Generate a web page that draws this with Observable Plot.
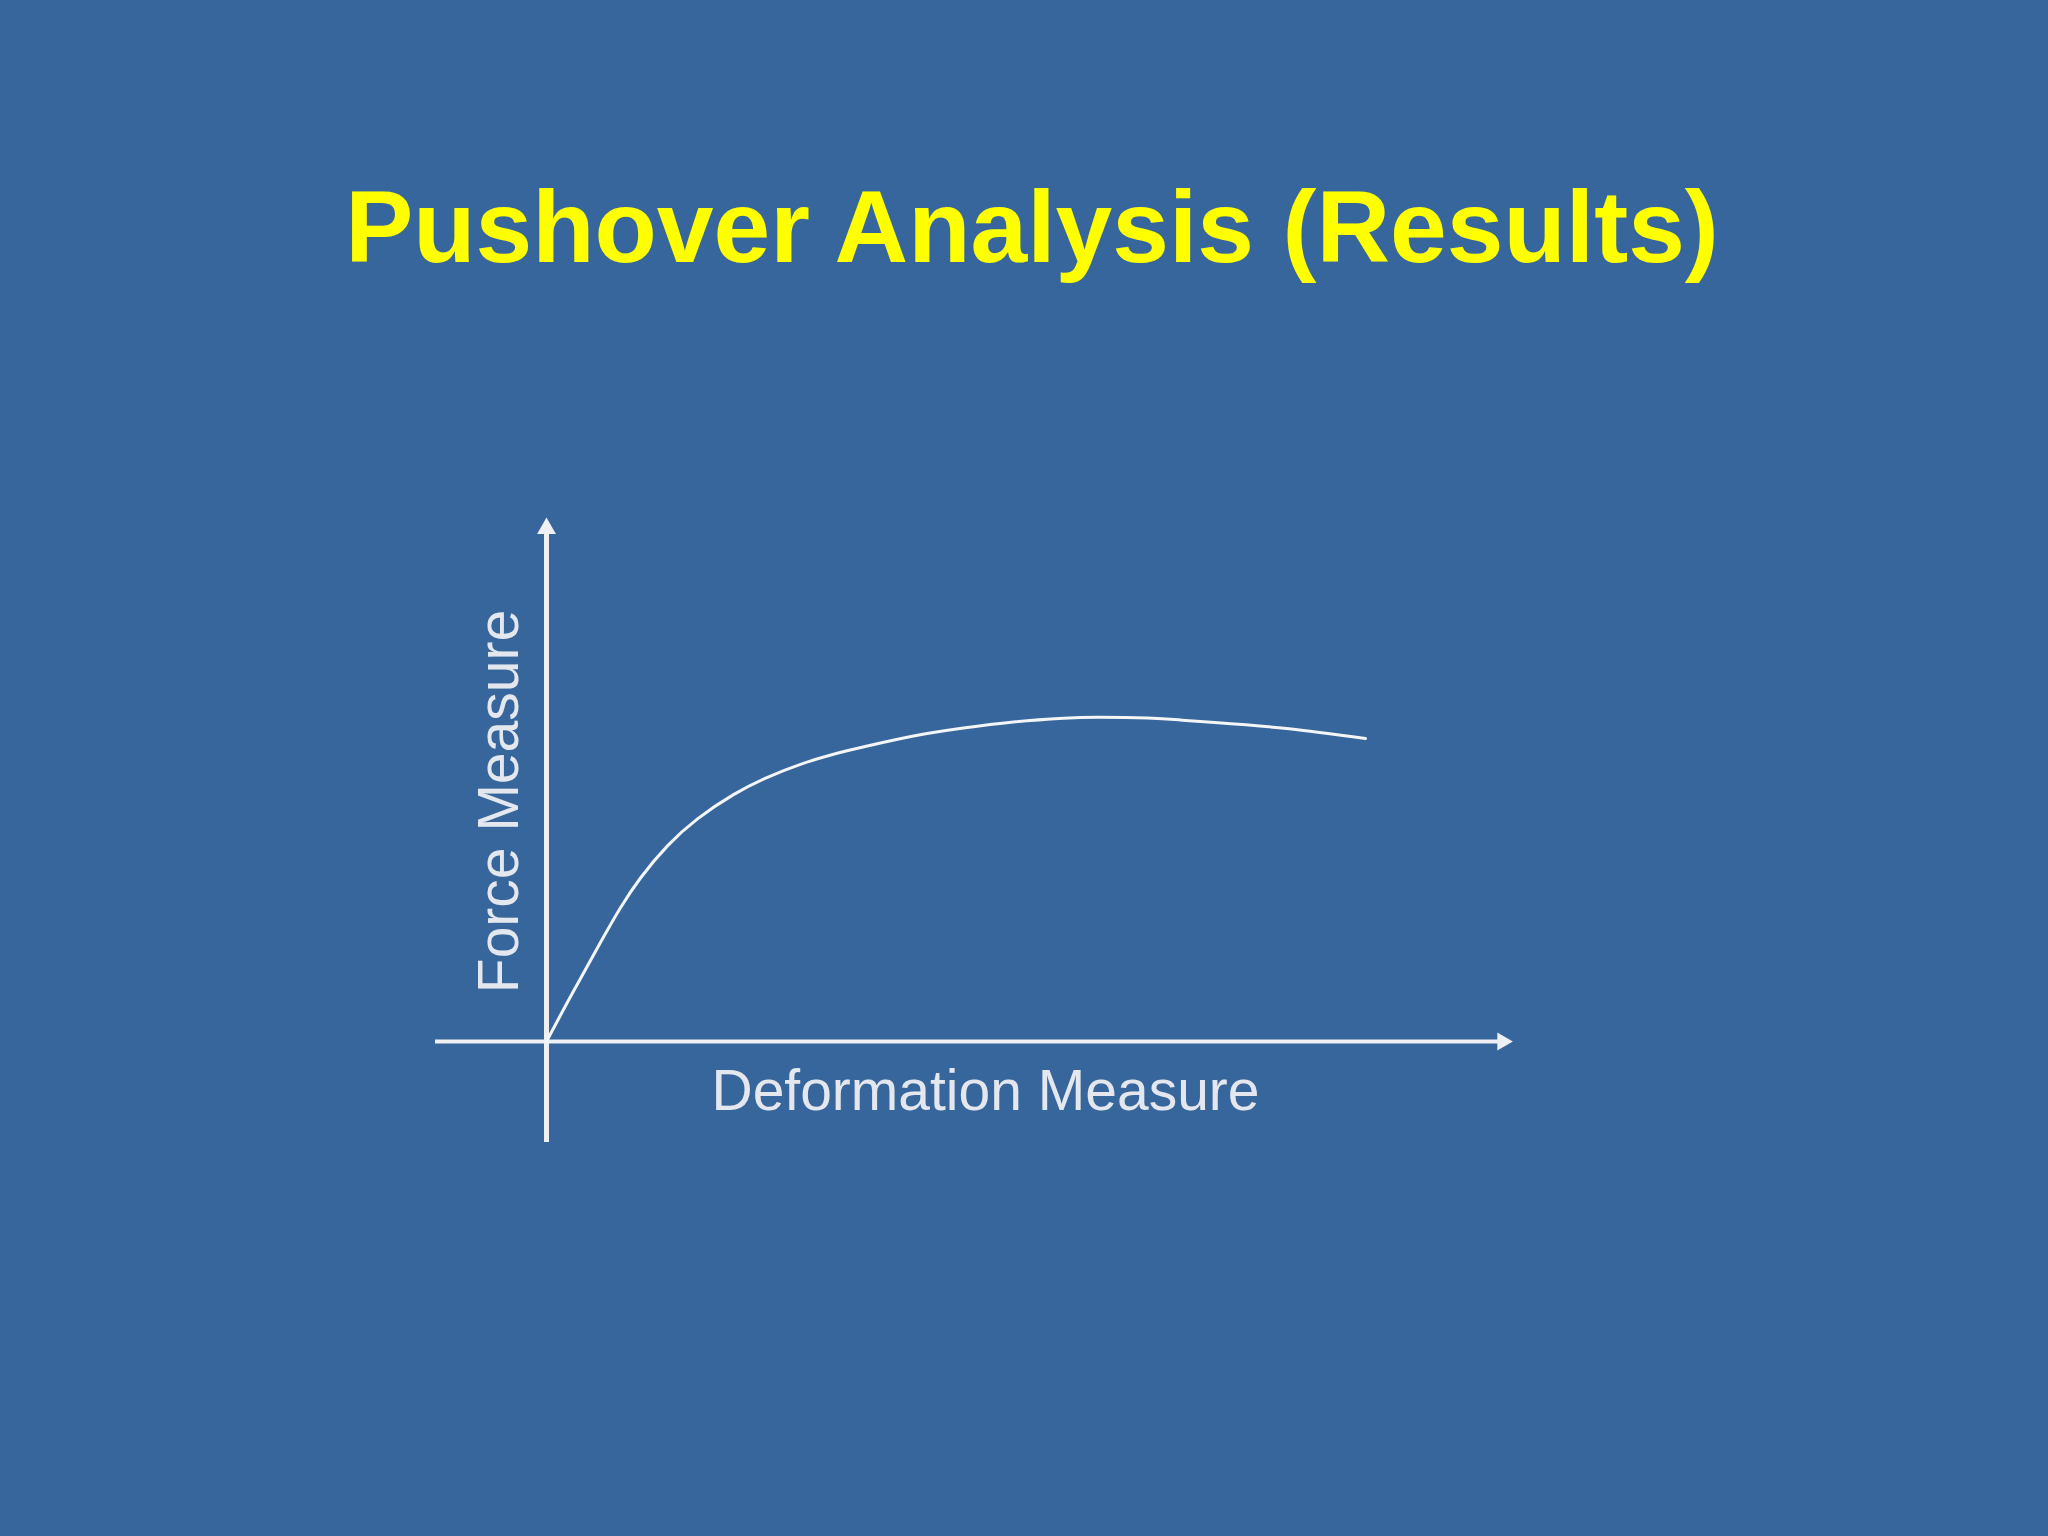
<!DOCTYPE html>
<html>
<head>
<meta charset="utf-8">
<script src="https://cdn.jsdelivr.net/npm/d3@7"></script>
<script src="https://cdn.jsdelivr.net/npm/@observablehq/plot@0.6"></script>
<style>
  html, body { margin: 0; padding: 0; }
  body { width: 2048px; height: 1536px; background: #36669b; overflow: hidden; font-family: "Liberation Sans", Arial, sans-serif; }
  #title { position: relative; height: 300px; }
  #title span { position: absolute; left: 1032px; top: 176px; transform: translateX(-50%); white-space: nowrap;
    font-size: 102px; line-height: 1; font-weight: bold; color: #ffff00; }
  #chart svg { display: block; }
</style>
</head>
<body>
<div id="title"><span>Pushover Analysis (Results)</span></div>
<div id="chart"></div>
<script>
// Pushover curve (arbitrary units)
const deformation = [0, 0.26, 0.57, 0.74, 0.94, 1.21, 1.51, 1.87, 2.21, 2.54, 2.87, 3.21, 3.67, 4.17, 4.67, 5.17, 5.51, 6.01, 6.34, 6.68, 7.40, 8.19];
const force       = [0, 0.485, 1.044, 1.338, 1.635, 1.956, 2.226, 2.469, 2.642, 2.772, 2.873, 2.955, 3.055, 3.135, 3.195, 3.232, 3.242, 3.235, 3.215, 3.19, 3.13, 3.03];
const xAxisExtent = [-1.11, 9.67];   // deformation axis from .. to arrow tip
const yAxisExtent = [-1.01, 5.24];   // force axis from .. to arrow tip
const xLabel = "Deformation Measure";
const yLabel = "Force Measure";

const curve = deformation.map((d, i) => ({d, f: force[i]}));
const axisColor = "#eef0f3";
const textColor = "#e4e8ee";

const chart = Plot.plot({
  width: 2048,
  height: 1236,
  marginTop: 0, marginRight: 0, marginBottom: 0, marginLeft: 0,
  x: {domain: [-5.46, 15.02], axis: null},
  y: {domain: [-4.95, 7.41], axis: null},
  style: {background: "transparent", fontFamily: "'Liberation Sans', Arial, sans-serif", overflow: "visible"},
  marks: [
    Plot.ruleY([0], {x1: xAxisExtent[0], x2: xAxisExtent[1] - 0.14, stroke: axisColor, strokeWidth: 4}),
    Plot.ruleX([0], {y1: yAxisExtent[0], y2: yAxisExtent[1] - 0.14, stroke: axisColor, strokeWidth: 5}),
    Plot.dot([xAxisExtent[1]], {x: d => d, y: () => 0, dx: -11, symbol: "triangle2", r: 8.6, rotate: 90, fill: axisColor, stroke: "none"}),
    Plot.dot([yAxisExtent[1]], {x: () => 0, y: d => d, dy: 11, symbol: "triangle2", r: 9, fill: axisColor, stroke: "none"}),
    Plot.line(curve, {x: "d", y: "f", curve: "natural", stroke: "#f4f5f7", strokeWidth: 3, strokeLinejoin: "round"}),
    Plot.text([xLabel], {x: () => 4.39, y: () => -0.68, text: d => d, textAnchor: "middle", lineAnchor: "bottom", fontSize: 57, fill: textColor}),
    Plot.text([yLabel], {x: () => -0.29, y: () => 2.40, text: d => d, rotate: -90, textAnchor: "middle", lineAnchor: "bottom", fontSize: 57, fill: textColor})
  ]
});
document.getElementById("chart").appendChild(chart);
</script>
</body>
</html>
